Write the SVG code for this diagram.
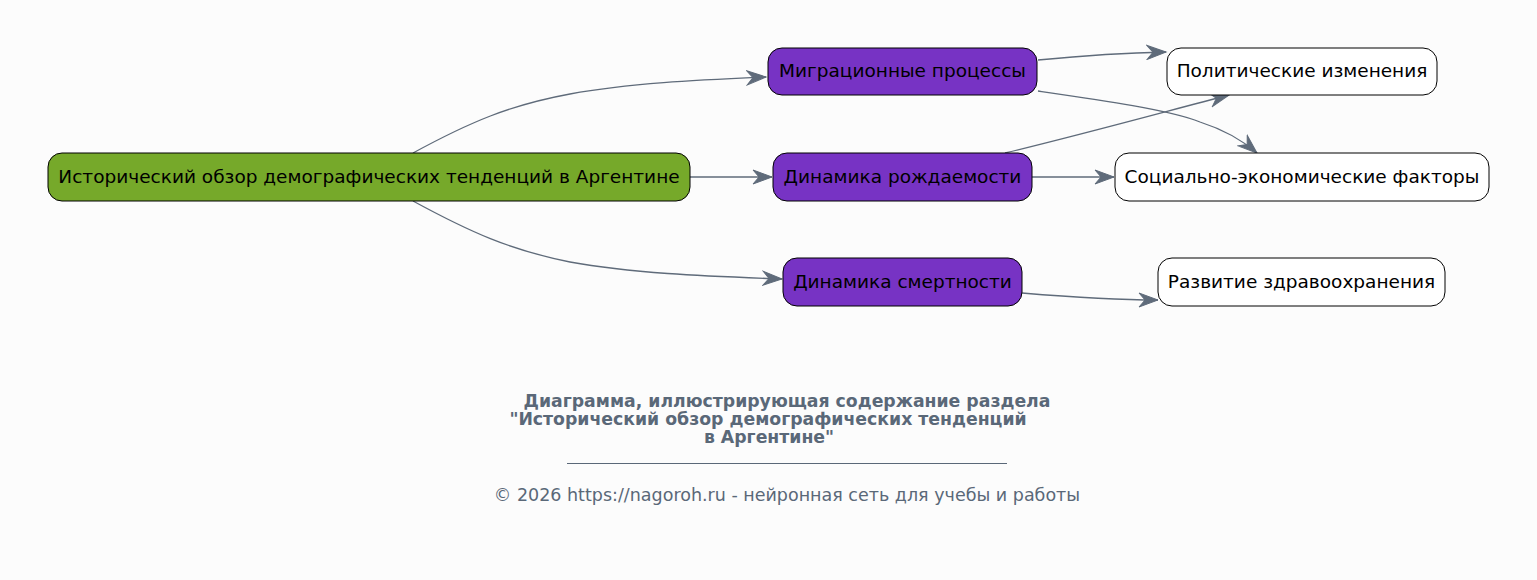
<svg xmlns="http://www.w3.org/2000/svg" width="1537" height="580" viewBox="0 0 1537 580">
<defs>
<style>
.node rect{stroke:#000;stroke-width:1}
.root rect{fill:#76a92a}
.mid rect{fill:#7733c4}
.leaf rect{fill:#ffffff}
.node text{font-family:"DejaVu Sans",sans-serif;font-size:18.5px;fill:#000;text-anchor:middle;dominant-baseline:central}
.edges path{fill:none;stroke:#5f6b7a;stroke-width:1.3;marker-end:url(#vee)}
.title{font-family:"DejaVu Sans",sans-serif;font-size:17.3px;font-weight:bold;fill:#5a6878;text-anchor:middle}
.foot{font-family:"DejaVu Sans",sans-serif;font-size:17.5px;fill:#5a6878;text-anchor:middle}
</style>
<marker id="vee" markerUnits="userSpaceOnUse" markerWidth="22" markerHeight="16" viewBox="-20 -8 22 16" refX="0" refY="0" orient="auto">
<path d="M0,0 L-19,-7 L-13,0 L-19,7 Z" fill="#5f6b7a" stroke="#5f6b7a" stroke-width="1" stroke-linejoin="miter"/>
</marker>
</defs>
<rect width="1537" height="580" fill="#fcfcfc"/>
<g class="edges">
<path d="M413,153 C470,122 510,105 570,94 C630,83 700,80 766,77"/>
<path d="M690,177 L772,177"/>
<path d="M413,201 C470,232 510,250 570,262 C630,273 700,276 782,279"/>
<path d="M1038,60 C1080,56 1120,53 1166,52"/>
<path d="M1038,91 C1100,100 1170,110 1200,122 C1225,130 1242,140 1257,153"/>
<path d="M1005,153 C1080,135 1160,113 1229,95"/>
<path d="M1032,177 L1114,177"/>
<path d="M1022,293 C1070,297 1110,300 1158,300"/>
</g>
<g id="n-root" class="node root"><rect x="48" y="153" width="642" height="48" rx="14"/><text x="369" y="176">Исторический обзор демографических тенденций в Аргентине</text></g>
<g id="n-migr" class="node mid"><rect x="768" y="48" width="269" height="47" rx="14"/><text x="902.5" y="70.5">Миграционные процессы</text></g>
<g id="n-birth" class="node mid"><rect x="773" y="153" width="259" height="48" rx="14"/><text x="902.5" y="176">Динамика рождаемости</text></g>
<g id="n-death" class="node mid"><rect x="783" y="258" width="239" height="48" rx="14"/><text x="902.5" y="281">Динамика смертности</text></g>
<g id="n-pol" class="node leaf"><rect x="1167" y="48" width="270" height="47" rx="14"/><text x="1302" y="70.5">Политические изменения</text></g>
<g id="n-soc" class="node leaf"><rect x="1115" y="153" width="374" height="48" rx="14"/><text x="1302" y="176">Социально-экономические факторы</text></g>
<g id="n-health" class="node leaf"><rect x="1158" y="258" width="287" height="48" rx="14"/><text x="1301.5" y="281">Развитие здравоохранения</text></g>
<g id="caption">
<text class="title" x="787" y="407">Диаграмма, иллюстрирующая содержание раздела</text>
<text class="title" x="768" y="425">"Исторический обзор демографических тенденций</text>
<text class="title" x="769" y="443">в Аргентине"</text>
<line x1="567" y1="463.5" x2="1007" y2="463.5" stroke="#5a6878" stroke-width="1"/>
<text class="foot" x="787" y="501">© 2026 https://nagoroh.ru - нейронная сеть для учебы и работы</text>
</g>
</svg>
